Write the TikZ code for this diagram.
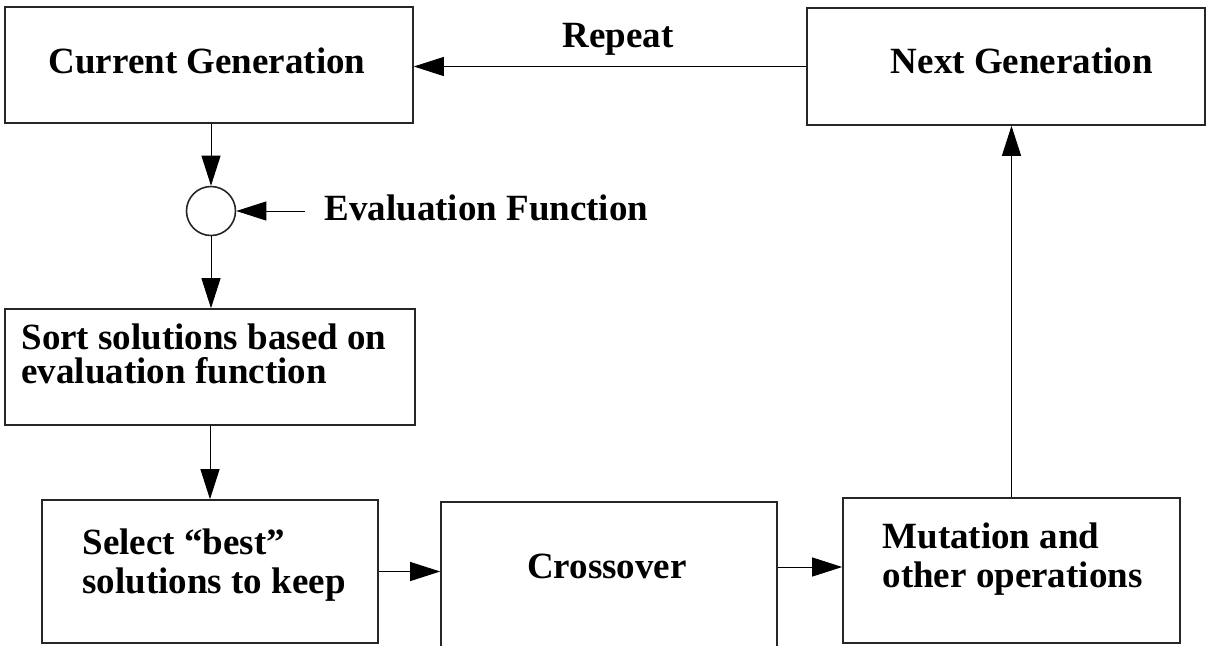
\documentclass[tikz,border=0pt]{standalone}
\usepackage{fontspec}
\setmainfont{Liberation Serif}
\usetikzlibrary{arrows.meta}
\tikzset{
  box/.style={draw=black!85, line width=0.8pt, inner sep=0pt},
  txt/.style={font=\bfseries\fontsize{18.5}{19.5}\selectfont, inner sep=0pt, align=left},
}
\begin{document}
\begin{tikzpicture}[x=0.5pt, y=-0.5pt, line width=0.5pt, >={Triangle[length=15pt,width=9.5pt]}]
\useasboundingbox (0,0) rectangle (1207,645);
\clip (0,0) rectangle (1207,645);
% boxes
\node[box, minimum width=204pt, minimum height=58pt] (cur) at (209,65) {};
\node[box, minimum width=199pt, minimum height=58.5pt] (nxt) at (1006,66.5) {};
\node[box, circle, minimum size=24.5pt] (circ) at (211,211) {};
\node[box, minimum width=205pt, minimum height=58pt] (sort) at (210,367) {};
\node[box, minimum width=168pt, minimum height=71.5pt] (sel) at (210,571.5) {};
\node[box, minimum width=168pt, minimum height=84pt] (cross) at (609,586) {};
\node[box, minimum width=168.5pt, minimum height=72.5pt] (mut) at (1011.5,570.5) {};
% labels (multi-line ones sit on their last baseline)
\node[txt, anchor=base] (curlbl) at (207,73) {Current Generation};
\node[txt, anchor=base] (nxtlbl) at (1022,73) {Next Generation};
\node[txt, anchor=base] (rptlbl) at (618,47) {Repeat};
\node[txt, anchor=base west] (evallbl) at (324,220) {Evaluation Function};
\node[txt, anchor=base west, font=\bfseries\fontsize{18.5}{17}\selectfont] (sortlbl) at (21,383) {Sort solutions based on\\evaluation function};
\node[txt, anchor=base west] (sellbl) at (82,593) {Select “best”\\solutions to keep};
\node[txt, anchor=base] (crosslbl) at (607,578) {Crossover};
\node[txt, anchor=base west] (mutlbl) at (882,587) {Mutation and\\other operations};
% arrows
\draw[->] (nxt.west) -- (cur.east |- nxt.west);
\draw[->] (cur.south -| circ) -- (circ.north);
\draw[->] ([xshift=-9.5pt]circ.east -| evallbl.west) -- (circ.east);
\draw[->] (circ.south) -- (sort.north -| circ);
\draw[->] (sort.south) -- (sel.north);
\draw[->] (sel.east) -- (cross.west |- sel.east);
\draw[->] ([yshift=1.75pt]cross.east |- mut.west) -- ([yshift=1.75pt]mut.west);
\draw[->] (mut.north) -- (nxt.south -| mut.north);
\end{tikzpicture}
\end{document}
